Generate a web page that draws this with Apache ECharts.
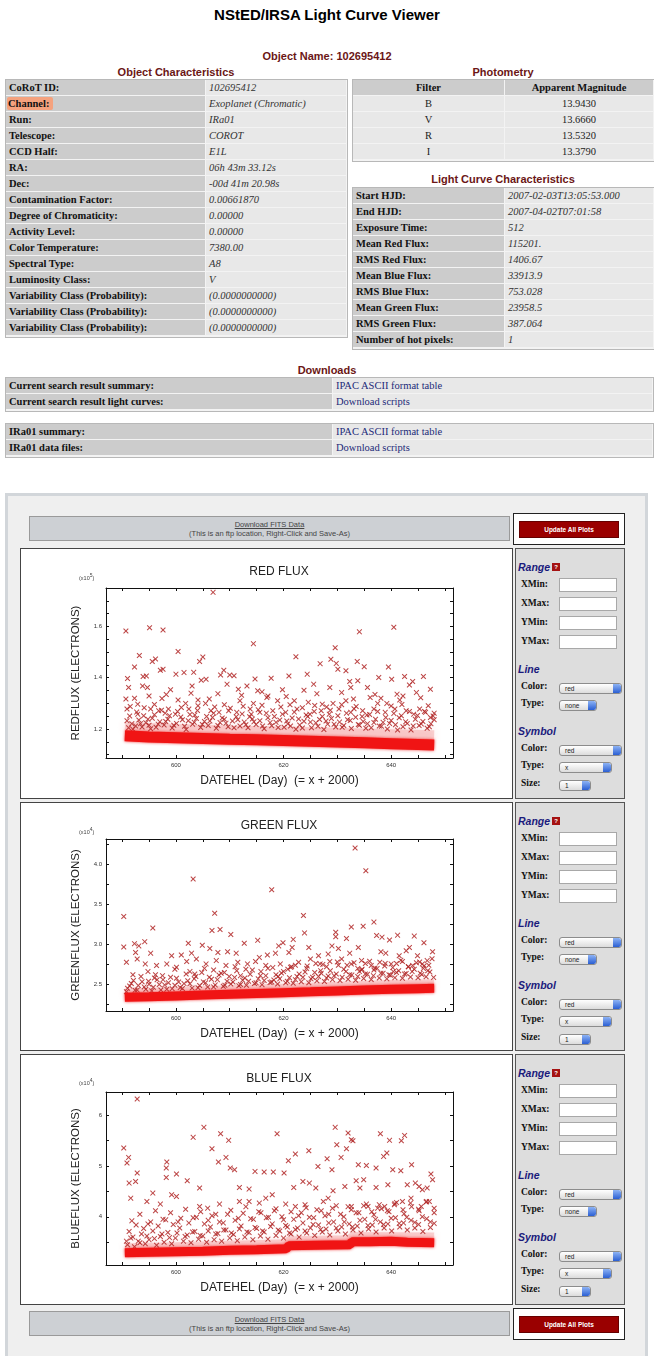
<!DOCTYPE html>
<html><head><meta charset="utf-8">
<script src="https://cdn.jsdelivr.net/npm/echarts@6/dist/echarts.min.js"></script>
<style>
body{margin:0;width:654px;height:1356px;position:relative;overflow:hidden;background:#fff;font-family:"Liberation Serif","Times New Roman",serif;}
.a{position:absolute;box-sizing:border-box;}
.ttl{position:absolute;left:0;width:654px;text-align:center;font:bold 15px "Liberation Sans",Arial,sans-serif;color:#000;}
.hd{position:absolute;text-align:center;font:bold 11px "Liberation Sans",Arial,sans-serif;color:#6b1616;white-space:nowrap;}
.c{position:absolute;box-sizing:border-box;height:15px;line-height:15px;font-size:10.5px;white-space:nowrap;overflow:hidden;padding-left:3px;}
.lab{background:#cccccc;font-weight:bold;color:#111;}
.val{background:#e8e8e8;font-style:italic;color:#333;}
.hdr{background:#cccccc;font-weight:bold;text-align:center;padding:0;color:#111;}
.pv{background:#e8e8e8;text-align:center;padding:0;color:#222;}
.lnk{background:#e8e8e8;color:#1c2a78;}
.pl{font:bold 9.5px "Liberation Serif",serif;color:#111;position:absolute;}
.ph{font:bold italic 10.5px "Liberation Sans",Arial,sans-serif;color:#1a1a7c;position:absolute;}
.inp{position:absolute;background:#fff;border:1px solid #a8a8a8;height:14px;box-sizing:border-box;}
.sel{position:absolute;box-sizing:border-box;height:11px;border:1px solid #8c8c8c;border-radius:3px;background:linear-gradient(#ffffff,#dcdcdc);font:6.5px "Liberation Sans",Arial,sans-serif;line-height:9px;padding-left:5px;color:#222;overflow:hidden;}
.arr{position:absolute;right:0;top:0;width:8px;height:9px;border-radius:0 2px 2px 0;background:linear-gradient(#8db3f5,#2b5fd3);}
.fits{position:absolute;box-sizing:border-box;background:#cdd0d4;border:1px solid #9a9a9a;text-align:center;font:7.5px "Liberation Sans",Arial,sans-serif;color:#444;line-height:9px;padding-top:3px;}
.upd{position:absolute;box-sizing:border-box;background:#fff;border:1px solid #222;}
.btn{position:absolute;box-sizing:border-box;background:#9a0000;border:1px solid #600;color:#fff;font:bold 6.5px "Liberation Sans",Arial,sans-serif;text-align:center;line-height:15px;}
.pbox{position:absolute;box-sizing:border-box;background:#fff;border:1px solid #444;}
.side{position:absolute;box-sizing:border-box;background:#dddddd;border:1px solid #555;}
</style></head>
<body>
<div id="page"></div>
<div id="chart" style="position:absolute;left:0;top:0;width:654px;height:1356px;z-index:5;pointer-events:none;"></div>
<script>
// ---------- page text ----------
const objLabels = ["CoRoT ID:","Channel:","Run:","Telescope:","CCD Half:","RA:","Dec:","Contamination Factor:","Degree of Chromaticity:","Activity Level:","Color Temperature:","Spectral Type:","Luminosity Class:","Variability Class (Probability):","Variability Class (Probability):","Variability Class (Probability):"];
const objValues = ["102695412","Exoplanet (Chromatic)","IRa01","COROT","E1L","06h 43m 33.12s","-00d 41m 20.98s","0.00661870","0.00000","0.00000","7380.00","A8","V","(0.0000000000)","(0.0000000000)","(0.0000000000)"];
const photFilters = ["B","V","R","I"];
const photMags = ["13.9430","13.6660","13.5320","13.3790"];
const lcLabels = ["Start HJD:","End HJD:","Exposure Time:","Mean Red Flux:","RMS Red Flux:","Mean Blue Flux:","RMS Blue Flux:","Mean Green Flux:","RMS Green Flux:","Number of hot pixels:"];
const lcValues = ["2007-02-03T13:05:53.000","2007-04-02T07:01:58","512","115201.","1406.67","33913.9","753.028","23958.5","387.064","1"];
const dl1Labels = ["Current search result summary:","Current search result light curves:"];
const dl2Labels = ["IRa01 summary:","IRa01 data files:"];
const dlValues = ["IPAC ASCII format table","Download scripts"];

// ---------- chart data ----------
const xTicks = [590,595,600,605,610,615,620,625,630,635,640,645,650];
const xLabels = [600,620,640];
const redTicks = [1.1,1.15,1.2,1.25,1.3,1.35,1.4,1.45,1.5,1.55,1.6,1.65,1.7,1.75];
const redLabels = [1.2,1.4,1.6];
const greenTicks = [2.25,2.5,2.75,3.0,3.25,3.5,3.75,4.0,4.25];
const greenLabels = [2.5,3.0,3.5,4.0];
const blueTicks = [3.5,4,4.5,5,5.5,6];
const blueLabels = [4,5,6];

// dense baseline of each light curve (day, flux)
const redBand = [[590.5,1.174],[595,1.169],[600,1.166],[605,1.163],[610,1.160],[615,1.158],[620,1.155],[625,1.152],[630,1.149],[635,1.146],[640,1.143],[645,1.140],[648,1.138]];
const greenBand = [[590.5,2.340],[595,2.348],[600,2.358],[605,2.368],[610,2.378],[615,2.388],[620,2.398],[625,2.408],[630,2.420],[635,2.430],[640,2.440],[645,2.448],[648,2.452]];
const blueBand = [[590.5,3.29],[595,3.30],[600,3.31],[605,3.32],[610,3.34],[615,3.35],[620.5,3.37],[621,3.43],[626,3.44],[632.4,3.45],[632.7,3.51],[636,3.51],[640,3.52],[643,3.50],[648,3.49]];
// crowded zone just above each baseline (day, flux)
const redCrowd = [[590.5,1.207],[600,1.200],[610,1.194],[620,1.190],[630,1.185],[640,1.180],[648,1.176]];
const greenCrowd = [[590.5,2.400],[600,2.420],[610,2.440],[620,2.462],[630,2.485],[640,2.505],[648,2.515]];
const blueCrowd = [[590.5,3.40],[600,3.42],[610,3.45],[620.5,3.48],[621,3.54],[632.4,3.56],[632.7,3.62],[648,3.61]];

// scattered points above the baseline (day, flux)
const redPoints = [
[590.7,1.582],[595.1,1.595],[597.6,1.586],[606.9,1.733],[614.4,1.533],[634.1,1.579],[640.5,1.597],[600.4,1.502],[593.2,1.487],[605.0,1.481],
[622.3,1.482],[629.6,1.517],[628.8,1.472],[626.8,1.455],[595.6,1.463],[596.2,1.473],[604.4,1.463],[633.7,1.463],[635.0,1.443],[629.8,1.456],
[630.1,1.433],[631.6,1.427],[639.5,1.442],[592.3,1.442],[597.1,1.429],[597.6,1.433],[608.9,1.429],[600.0,1.414],[601.5,1.420],[603.3,1.421],
[608.3,1.411],[610.0,1.411],[610.8,1.408],[614.7,1.395],[617.7,1.398],[621.0,1.407],[624.4,1.414],[637.7,1.401],[640.1,1.394],[642.5,1.405],
[646.0,1.405],[591.0,1.397],[593.9,1.405],[594.5,1.407],[604.7,1.390],[605.6,1.394],[633.8,1.388],[632.3,1.385],[644.0,1.385],[643.4,1.372],
[647.3,1.355],[591.2,1.362],[593.8,1.368],[594.7,1.362],[599.0,1.353],[603.0,1.368],[609.5,1.375],[611.6,1.355],[613.2,1.368],[615.2,1.349],
[619.8,1.353],[623.8,1.351],[625.6,1.375],[628.6,1.362],[632.5,1.362],[635.6,1.362],[641.1,1.336],[642.2,1.329],[644.7,1.342],[590.7,1.317],
[592.3,1.320],[592.9,1.297],[595.0,1.329],[597.4,1.319],[600.4,1.313],[601.8,1.300],[604.1,1.313],[606.2,1.317],[611.9,1.310],[614.4,1.300],
[616.9,1.323],[617.1,1.329],[618.9,1.310],[622.0,1.310],[624.6,1.304],[627.2,1.297],[629.2,1.300],[631.6,1.310],[633.0,1.317],[636.1,1.323],
[638.1,1.320],[639.2,1.300],[641.6,1.313],[646.9,1.291],[590.9,1.278],[592.9,1.258],[595.3,1.278],[596.8,1.271],[598.6,1.278],[599.9,1.258],
[602.4,1.278],[604.1,1.291],[606.5,1.271],[608.0,1.265],[609.8,1.271],[611.3,1.265],[613.8,1.278],[615.6,1.265],[618.0,1.271],[620.4,1.265],
[622.5,1.278],[624.9,1.258],[627.0,1.271],[628.5,1.258],[630.3,1.278],[632.5,1.265],[634.7,1.271],[636.8,1.278],[638.9,1.265],[640.7,1.278],
[642.8,1.271],[645.3,1.278],[647.3,1.245],[591.5,1.288],[594.0,1.252],[596.0,1.296],[598.0,1.262],[601.0,1.284],[603.5,1.255],[605.5,1.300],
[607.2,1.286],[609.0,1.295],[612.5,1.289],[614.0,1.258],[616.0,1.293],[619.5,1.286],[621.2,1.295],[623.5,1.283],[625.8,1.292],[628.0,1.286],
[630.8,1.295],[633.5,1.288],[635.5,1.255],[637.5,1.300],[640.0,1.290],[642.0,1.296],[644.2,1.258],[646.2,1.268],[648.0,1.262],[602.8,1.340],
[607.8,1.338],[612.2,1.332],[620.5,1.327],[626.2,1.338],[630.8,1.342],[637.0,1.335],[645.5,1.322],[598.2,1.335],[616.0,1.345],
[591.2,1.205],[591.8,1.221],[592.5,1.212],[593.1,1.235],[593.7,1.208],[594.4,1.224],[595.0,1.215],[595.6,1.242],[596.3,1.207],[597.0,1.228],
[597.8,1.216],[598.5,1.238],[599.3,1.204],[600.1,1.222],[600.9,1.247],[601.6,1.211],[602.3,1.232],[603.1,1.219],[603.8,1.241],[604.6,1.206],
[605.3,1.229],[606.0,1.214],[606.8,1.245],[607.5,1.203],[608.2,1.225],[609.0,1.238],[609.7,1.209],[610.5,1.231],[611.2,1.248],[611.9,1.212],
[612.7,1.227],[613.4,1.205],[614.2,1.239],[614.9,1.218],[615.6,1.232],[616.4,1.201],[617.1,1.244],[617.8,1.213],[618.6,1.226],[619.3,1.235],
[620.1,1.207],[620.8,1.220],[621.6,1.243],[622.3,1.199],[623.0,1.216],[623.8,1.230],[624.5,1.249],[625.2,1.205],[626.0,1.224],[626.7,1.237],
[627.5,1.198],[628.2,1.219],[628.9,1.241],[629.7,1.208],[630.4,1.227],[631.2,1.214],[631.9,1.236],[632.6,1.202],[633.4,1.246],[634.1,1.215],
[634.8,1.229],[635.6,1.221],[636.3,1.205],[637.1,1.238],[637.8,1.212],[638.5,1.226],[639.3,1.200],[640.0,1.233],[640.8,1.217],[641.5,1.244],
[642.2,1.209],[643.0,1.222],[643.7,1.196],[644.5,1.238],[645.2,1.214],[645.9,1.229],[646.7,1.203],[647.4,1.221],[648.0,1.236],
[590.9,1.232],[591.4,1.251],[592.0,1.199],[592.7,1.266],[593.4,1.221],[594.1,1.283],[594.8,1.238],[595.3,1.201],[596.0,1.256],[596.7,1.219],
[597.3,1.273],[598.1,1.229],[598.8,1.252],[599.6,1.215],[600.3,1.268],[601.2,1.236],[601.9,1.198],[602.6,1.257],[603.4,1.226],[604.0,1.272],
[604.9,1.218],[605.7,1.249],[606.3,1.231],[607.0,1.262],[607.8,1.214],[608.6,1.243],[609.3,1.223],[610.1,1.281],[610.8,1.205],[611.5,1.236],
[612.3,1.259],[613.0,1.217],[613.7,1.248],[614.5,1.228],[615.3,1.275],[616.1,1.212],[616.8,1.262],[617.5,1.225],[618.3,1.249],[619.0,1.206],
[619.8,1.258],[620.6,1.231],[621.3,1.212],[622.0,1.266],[622.8,1.239],[623.5,1.204],[624.2,1.255],[625.0,1.227],[625.7,1.268],[626.4,1.211],
[627.2,1.249],[627.9,1.231],[628.7,1.273],[629.4,1.219],[630.1,1.252],[630.9,1.207],[631.7,1.262],[632.4,1.233],[633.1,1.279],[633.9,1.218],
[634.6,1.249],[635.3,1.203],[636.0,1.257],[636.8,1.225],[637.5,1.268],[638.2,1.211],[639.0,1.245],[639.7,1.222],[640.5,1.261],[641.2,1.196],
[641.9,1.252],[642.7,1.228],[643.4,1.268],[644.1,1.212],[644.9,1.253],[645.6,1.220],[646.4,1.265],[647.1,1.209],[647.8,1.251]
];
const greenPoints = [
[633.3,4.199],[635.3,3.915],[603.2,3.813],[617.8,3.679],[607.2,3.386],[623.7,3.358],[590.3,3.346],[636.8,3.276],[595.7,3.203],[632.6,3.215],
[634.8,3.224],[606.7,3.171],[608.2,3.183],[610.2,3.122],[623.9,3.142],[629.7,3.150],[631.7,3.073],[637.3,3.110],[638.3,3.089],[641.2,3.114],
[644.3,3.102],[615.2,3.049],[621.8,3.061],[639.7,3.053],[646.1,3.020],[602.3,3.012],[592.3,3.008],[594.2,3.033],[593.1,2.980],[612.7,3.012],
[619.1,2.980],[619.9,3.020],[629.7,3.093],[629.0,2.980],[590.3,2.967],[604.9,2.988],[606.3,2.947],[621.6,2.959],[624.7,2.959],[630.2,2.947],
[633.9,2.959],[643.4,2.959],[647.7,2.907],[592.5,2.898],[595.3,2.890],[599.2,2.858],[601.0,2.866],[602.9,2.890],[607.8,2.898],[609.6,2.907],
[611.2,2.890],[615.5,2.837],[617.0,2.866],[618.5,2.890],[621.0,2.898],[626.5,2.858],[628.3,2.878],[632.3,2.890],[638.1,2.907],[639.0,2.890],
[641.5,2.858],[642.8,2.919],[644.9,2.858],[646.7,2.797],[590.8,2.776],[592.8,2.817],[594.3,2.756],[596.4,2.736],[598.3,2.756],[600.1,2.715],
[602.0,2.785],[603.8,2.817],[605.6,2.756],[607.5,2.797],[609.3,2.736],[611.5,2.776],[613.3,2.756],[614.8,2.785],[616.7,2.736],[619.4,2.756],
[621.3,2.715],[622.8,2.776],[625.0,2.817],[626.8,2.756],[628.6,2.785],[630.8,2.817],[632.6,2.756],[634.5,2.797],[636.3,2.736],[637.9,2.776],
[640.0,2.756],[642.1,2.785],[644.0,2.736],[645.8,2.756],
[592.0,2.620],[594.8,2.660],[597.5,2.610],[599.8,2.690],[602.6,2.660],[605.3,2.700],[607.0,2.680],[609.0,2.650],[611.0,2.720],[613.0,2.690],
[615.8,2.660],[618.0,2.710],[620.8,2.690],[622.2,2.740],[624.3,2.700],[626.0,2.760],[628.0,2.720],[630.0,2.780],[631.8,2.740],[633.8,2.700],
[635.2,2.760],[636.8,2.680],[638.8,2.730],[641.0,2.760],[643.2,2.720],[645.3,2.780],[647.0,2.740],[596.0,2.580],[603.5,2.630],[612.0,2.610],
[619.0,2.600],[627.0,2.640],[634.6,2.690],[640.4,2.660],[646.0,2.700],
[591.0,2.452],[591.7,2.512],[592.4,2.428],[593.0,2.487],[593.7,2.535],[594.4,2.441],[595.0,2.503],[595.8,2.466],[596.5,2.558],[597.2,2.432],
[597.9,2.495],[598.6,2.521],[599.3,2.448],[600.1,2.578],[600.8,2.462],[601.5,2.511],[602.2,2.546],[603.0,2.455],[603.7,2.600],[604.4,2.487],
[605.1,2.532],[605.9,2.468],[606.6,2.565],[607.3,2.495],[608.0,2.619],[608.8,2.478],[609.5,2.541],[610.2,2.507],[610.9,2.588],[611.7,2.485],
[612.4,2.552],[613.1,2.490],[613.8,2.628],[614.6,2.512],[615.3,2.570],[616.0,2.498],[616.7,2.610],[617.5,2.525],[618.2,2.556],[618.9,2.505],
[619.6,2.642],[620.4,2.520],[621.1,2.584],[621.8,2.515],[622.5,2.600],[623.3,2.535],[624.0,2.655],[624.7,2.522],[625.4,2.590],[626.2,2.545],
[626.9,2.672],[627.6,2.538],[628.3,2.605],[629.1,2.560],[629.8,2.630],[630.5,2.548],[631.2,2.690],[632.0,2.565],[632.7,2.618],[633.4,2.552],
[634.1,2.660],[634.9,2.575],[635.6,2.628],[636.3,2.562],[637.0,2.705],[637.8,2.580],[638.5,2.640],[639.2,2.570],[639.9,2.615],[640.7,2.585],
[641.4,2.670],[642.1,2.578],[642.8,2.638],[643.6,2.592],[644.3,2.690],[645.0,2.583],[645.7,2.625],[646.5,2.596],[647.2,2.655],[647.9,2.588],
[590.8,2.41],[591.4,2.48],[592.1,2.55],[592.8,2.43],[593.5,2.60],[594.1,2.47],[594.9,2.54],[595.5,2.42],[596.2,2.62],[596.9,2.50],
[597.6,2.56],[598.3,2.44],[599.0,2.59],[599.8,2.49],[600.5,2.53],[601.2,2.45],[601.9,2.63],[602.6,2.51],[603.4,2.57],[604.1,2.46],
[604.8,2.65],[605.5,2.52],[606.2,2.59],[607.0,2.47],[607.7,2.56],[608.4,2.64],[609.1,2.49],[609.9,2.60],[610.6,2.53],[611.3,2.67],
[612.0,2.50],[612.8,2.58],[613.5,2.54],[614.2,2.68],[614.9,2.52],[615.7,2.61],[616.4,2.55],[617.1,2.70],[617.8,2.53],[618.6,2.62],
[619.3,2.57],[620.0,2.66],[620.7,2.54],[621.5,2.72],[622.2,2.56],[622.9,2.63],[623.6,2.59],[624.4,2.73],[625.1,2.57],[625.8,2.65],
[626.5,2.60],[627.3,2.75],[628.0,2.58],[628.7,2.67],[629.4,2.61],[630.2,2.74],[630.9,2.59],[631.6,2.66],[632.3,2.62],[633.1,2.77],
[633.8,2.60],[634.5,2.68],[635.2,2.63],[636.0,2.79],[636.7,2.61],[637.4,2.70],[638.1,2.64],[638.9,2.76],[639.6,2.62],[640.3,2.71],
[641.0,2.65],[641.8,2.80],[642.5,2.63],[643.2,2.72],[643.9,2.66],[644.7,2.77],[645.4,2.64],[646.1,2.73],[646.8,2.67],[647.6,2.82]
];
const bluePoints = [
[592.8,6.322],[605.2,5.763],[629.6,5.763],[632.0,5.651],[632.6,5.520],[632.9,5.500],[638.0,5.638],[642.5,5.605],[618.8,5.638],[608.3,5.638],
[603.2,5.566],[609.8,5.507],[629.9,5.421],[639.7,5.507],[590.3,5.355],[606.7,5.342],[641.9,5.500],[631.7,5.342],[624.7,5.303],[628.1,5.145],
[622.2,5.237],[639.2,5.257],[591.2,5.171],[590.9,5.059],[598.3,5.079],[609.3,5.171],[607.9,5.079],[620.9,5.105],[630.7,5.171],[638.6,5.191],
[643.8,5.026],[633.9,5.026],[635.4,5.013],[637.2,4.961],[626.4,4.993],[629.0,4.928],[592.8,4.862],[591.3,4.664],[592.5,4.697],[598.2,4.961],
[610.1,4.961],[610.9,4.928],[614.7,4.895],[616.4,4.882],[618.1,4.882],[620.1,4.862],[640.3,4.928],[641.8,4.908],[600.1,4.842],[602.1,4.711],
[647.4,4.842],[647.7,4.730],[634.9,4.730],[633.5,4.711],[623.6,4.697],[624.8,4.664],[639.4,4.632],[643.0,4.632],[644.5,4.664],[645.2,4.599],
[598.2,4.776],[604.4,4.566],[611.8,4.579],[613.6,4.546],[617.9,4.434],[621.9,4.579],[626.0,4.566],[629.2,4.513],[631.4,4.599],[634.2,4.566],
[637.2,4.579],[645.8,4.533],[646.7,4.566],[647.1,4.303],[645.6,4.204],[591.6,4.368],[595.7,4.467],[594.6,4.303],[599.2,4.434],[600.1,4.401],
[597.1,4.250],[604.4,4.204],[605.9,4.171],[608.1,4.250],[611.8,4.303],[613.6,4.303],[615.5,4.270],[616.7,4.368],[620.4,4.250],[622.2,4.204],
[624.0,4.237],[627.4,4.303],[628.3,4.368],[632.6,4.204],[635.7,4.204],[637.5,4.171],[638.8,4.204],[640.6,4.237],[642.1,4.303],[643.7,4.368],
[591.8,3.92],[593.3,4.05],[594.8,3.86],[596.2,4.12],[597.6,3.95],[599.0,4.08],[600.4,3.90],[601.8,4.15],[603.2,3.98],[604.6,4.10],
[606.0,3.93],[607.4,4.05],[608.8,3.88],[610.2,4.13],[611.6,3.97],[613.0,4.20],[614.4,3.95],[615.8,4.08],[617.2,3.99],[618.6,4.16],
[620.0,3.94],[621.4,4.10],[622.8,4.02],[624.2,4.18],[625.6,3.98],[627.0,4.12],[628.4,4.05],[629.8,4.22],[631.2,4.00],[632.6,4.14],
[634.0,4.08],[635.4,4.25],[636.8,4.04],[638.2,4.16],[639.6,4.10],[641.0,4.28],[642.4,4.06],[643.8,4.20],[645.2,4.12],[646.6,4.30],[648.0,4.08],
[591.0,3.45],[591.6,3.58],[592.3,3.41],[593.0,3.52],[593.6,3.66],[594.3,3.47],[595.0,3.55],[595.7,3.72],[596.4,3.44],[597.1,3.61],
[597.8,3.50],[598.5,3.69],[599.2,3.47],[599.9,3.58],[600.7,3.78],[601.4,3.52],[602.1,3.64],[602.8,3.49],[603.5,3.71],[604.2,3.56],
[605.0,3.62],[605.7,3.50],[606.4,3.80],[607.1,3.55],[607.8,3.67],[608.5,3.52],[609.3,3.74],[610.0,3.58],[610.7,3.65],[611.4,3.53],
[612.1,3.82],[612.8,3.60],[613.6,3.69],[614.3,3.55],[615.0,3.77],[615.7,3.62],[616.4,3.70],[617.1,3.56],[617.9,3.86],[618.6,3.63],
[619.3,3.72],[620.0,3.58],[620.7,3.80],[621.4,3.66],[622.2,3.75],[622.9,3.60],[623.6,3.88],[624.3,3.68],[625.0,3.78],[625.8,3.63],
[626.5,3.84],[627.2,3.70],[627.9,3.76],[628.6,3.64],[629.3,3.90],[630.1,3.72],[630.8,3.80],[631.5,3.66],[632.2,3.86],[632.9,3.74],
[633.7,3.82],[634.4,3.68],[635.1,3.95],[635.8,3.76],[636.5,3.84],[637.2,3.70],[638.0,3.90],[638.7,3.78],[639.4,3.86],[640.1,3.72],
[640.8,3.98],[641.6,3.80],[642.3,3.88],[643.0,3.74],[643.7,3.93],[644.4,3.78],[645.1,3.85],[645.9,3.71],[646.6,3.96],[647.3,3.79],[648.0,3.87],
[590.8,3.52],[591.3,3.71],[592.0,3.60],[592.6,3.84],[593.3,3.49],[594.0,3.77],[594.6,3.62],[595.3,3.90],[596.0,3.57],[596.7,3.82],
[597.4,3.66],[598.1,3.94],[598.8,3.59],[599.5,3.85],[600.2,3.68],[600.9,3.97],[601.7,3.61],[602.4,3.88],[603.1,3.70],[603.8,3.99],
[604.5,3.63],[605.3,3.86],[606.0,3.72],[606.7,4.02],[607.4,3.66],[608.1,3.90],[608.9,3.74],[609.6,4.05],[610.3,3.68],[611.0,3.93],
[611.8,3.76],[612.5,4.07],[613.2,3.70],[613.9,3.96],[614.7,3.79],[615.4,4.10],[616.1,3.72],[616.8,3.98],[617.6,3.81],[618.3,4.12],
[619.0,3.74],[619.7,4.00],[620.4,3.83],[621.1,3.68],[621.9,3.95],[622.6,3.78],[623.3,4.08],[624.0,3.72],[624.8,3.99],[625.5,3.85],
[626.2,4.14],[626.9,3.75],[627.7,4.02],[628.4,3.88],[629.1,4.17],[629.8,3.78],[630.6,4.05],[631.3,3.90],[632.0,4.20],[632.8,3.80],
[633.5,4.08],[634.2,3.93],[634.9,4.22],[635.7,3.83],[636.4,4.10],[637.1,3.95],[637.8,4.24],[638.6,3.85],[639.3,4.12],[640.0,3.97],
[640.7,4.26],[641.5,3.87],[642.2,4.14],[642.9,3.99],[643.6,4.27],[644.4,3.89],[645.1,4.15],[645.8,4.00],[646.5,4.29],[647.3,3.90],[648.0,4.17]
];

// ---------- build page ----------
const page = document.getElementById('page');
function el(cls, x, y, w, h, html, style){
  const d = document.createElement('div');
  d.className = cls;
  d.style.left = x+'px'; d.style.top = y+'px';
  if (w!=null) d.style.width = w+'px';
  if (h!=null) d.style.height = h+'px';
  if (html!=null) d.innerHTML = html;
  if (style) Object.assign(d.style, style);
  page.appendChild(d);
  return d;
}
function txt(cls, x, y, w, text){ const d = el(cls, x, y, w, null, null); d.textContent = text; return d; }

txt('ttl', 0, 6, 654, 'NStED/IRSA Light Curve Viewer');
txt('hd', 0, 50, 654, 'Object Name: 102695412');
txt('hd', 5, 66, 342, 'Object Characteristics');
txt('hd', 352, 66, 302, 'Photometry');
txt('hd', 352, 173, 302, 'Light Curve Characteristics');
txt('hd', 0, 364, 654, 'Downloads');

function table(x, y, widths, rows, classes){
  const total = widths.reduce((a,b)=>a+b,0);
  el('a', x, y, total+2, rows.length*16+3, null, {background:'#f3f3f3', border:'1px solid #b8b8b8'});
  rows.forEach((r,i)=>{
    let cx = x+1;
    r.forEach((t,j)=>{
      const cls = typeof classes[i] === 'string' ? classes[i] : classes[i][j];
      const d = el('c '+cls, cx, y+1+i*16, widths[j]-1, 15, null);
      d.textContent = t;
      cx += widths[j];
    });
  });
}
table(5, 79, [200,141], objLabels.map((l,i)=>[l,objValues[i]]), objLabels.map(()=>['lab','val']));
// highlight on "Channel:"
el('a', 7, 97, 46, 13, null, {background:'#f5a27e', borderRadius:'2px', zIndex:1});
(function(){ const d = el('c lab', 8, 96, 50, 15, null, {background:'transparent', padding:'0', zIndex:2}); d.textContent='Channel:'; })();

table(352, 79, [152,149], [["Filter","Apparent Magnitude"]].concat(photFilters.map((f,i)=>[f,photMags[i]])), ['hdr','pv','pv','pv','pv']);
table(352, 187, [152,149], lcLabels.map((l,i)=>[l,lcValues[i]]), lcLabels.map(()=>['lab','val']));
table(5, 377, [327,320], dl1Labels.map((l,i)=>[l,dlValues[i]]), [['lab','lnk'],['lab','lnk']]);
table(5, 423, [327,320], dl2Labels.map((l,i)=>[l,dlValues[i]]), [['lab','lnk'],['lab','lnk']]);

// plotting panel
el('a', 5, 493, 643, 900, null, {background:'#efefef', border:'3px solid #d2d6da'});
function fitsBar(y){
  el('fits', 29, y, 481, 25, '<span style="text-decoration:underline">Download FITS Data</span><br>(This is an ftp location, Right-Click and Save-As)');
}
function updBox(y){
  el('upd', 513, y, 112, 32, null);
  el('btn', 519, y+8, 100, 17, 'Update All Plots');
}
fitsBar(516); updBox(513);
fitsBar(1311); updBox(1308);

const boxes = [[548,251],[802,249],[1054,251]];
function selectBox(x, y, w, label){
  const s = el('sel', x, y, w, 11, null);
  s.textContent = label;
  const ar = document.createElement('div'); ar.className='arr'; s.appendChild(ar);
}
boxes.forEach(([t,h])=>{
  el('pbox', 20, t, 493, h, null);
  el('side', 515, t, 110, h, null);
  txt('ph', 518, t+13, 60, 'Range');
  el('a', 552, t+15, 8, 8, '?', {background:'#a51212', color:'#fff', font:'bold 6px "Liberation Sans"', textAlign:'center', lineHeight:'8px'});
  [['XMin:',31],['XMax:',50],['YMin:',69],['YMax:',88]].forEach(([l,dy])=>{
    txt('pl', 521, t+dy, 40, l);
    el('inp', 559, t+dy-1, 58, 14, null);
  });
  txt('ph', 518, t+115, 60, 'Line');
  txt('pl', 521, t+133, 40, 'Color:'); selectBox(559, t+135, 63, 'red');
  txt('pl', 521, t+150, 40, 'Type:'); selectBox(559, t+152, 38, 'none');
  txt('ph', 518, t+177, 60, 'Symbol');
  txt('pl', 521, t+195, 40, 'Color:'); selectBox(559, t+197, 63, 'red');
  txt('pl', 521, t+212, 40, 'Type:'); selectBox(559, t+214, 53, 'x');
  txt('pl', 521, t+230, 40, 'Size:'); selectBox(559, t+232, 32, '1');
});

// ---------- charts ----------
const FONT = '"Liberation Sans", Arial, sans-serif';
const XSYM = 'path://M0,1.3L1.3,0L5,3.7L8.7,0L10,1.3L6.3,5L10,8.7L8.7,10L5,6.3L1.3,10L0,8.7L3.7,5Z';
const plots = [
  {title:'RED FLUX', yname:'REDFLUX (ELECTRONS)', exp:'5', top:588, height:170, ymin:1.087, ymax:1.75, yt:redTicks, yl:redLabels, dec:1, band:redBand, bw:11, crowd:redCrowd, cw:10, pts:redPoints, ty:572, ey:578},
  {title:'GREEN FLUX', yname:'GREENFLUX (ELECTRONS)', exp:'4', top:839, height:172, ymin:2.17, ymax:4.31, yt:greenTicks, yl:greenLabels, dec:1, band:greenBand, bw:9, crowd:greenCrowd, cw:8, pts:greenPoints, ty:826, ey:832},
  {title:'BLUE FLUX', yname:'BLUEFLUX (ELECTRONS)', exp:'4', top:1092, height:173, ymin:3.05, ymax:6.46, yt:blueTicks, yl:blueLabels, dec:0, band:blueBand, bw:9, crowd:blueCrowd, cw:8, pts:bluePoints, ty:1079, ey:1083}
];
const grid=[], xAxis=[], yAxis=[], series=[], graphic=[];
const line = {show:true, onZero:false, lineStyle:{color:'#111', width:1}};
plots.forEach((p,i)=>{
  grid.push({left:106, top:p.top, width:347, height:p.height, show:false});
  const tick = {show:true, inside:true, length:3, lineStyle:{color:'#111', width:1}};
  xAxis.push({type:'value', gridIndex:i, position:'bottom', min:587, max:651.5, axisLine:line,
    axisTick:Object.assign({customValues:xTicks}, tick),
    axisLabel:{customValues:xLabels, fontSize:6, color:'#333', margin:4, fontFamily:FONT},
    splitLine:{show:false},
    name:'DATEHEL (Day)  (= x + 2000)', nameLocation:'middle', nameGap:17,
    nameTextStyle:{fontSize:12, color:'#222', fontFamily:FONT}});
  xAxis.push({type:'value', gridIndex:i, position:'top', min:587, max:651.5, axisLine:line,
    axisTick:Object.assign({customValues:xTicks}, tick), axisLabel:{show:false}, splitLine:{show:false}});
  yAxis.push({type:'value', gridIndex:i, position:'left', min:p.ymin, max:p.ymax, axisLine:line,
    axisTick:Object.assign({customValues:p.yt}, tick),
    axisLabel:{customValues:p.yl, fontSize:6, color:'#333', margin:4, fontFamily:FONT, formatter:v=>Number(v).toFixed(p.dec)},
    splitLine:{show:false},
    name:p.yname, nameLocation:'middle', nameRotate:90, nameGap:24,
    nameTextStyle:{fontSize:11.5, color:'#222', fontFamily:FONT}});
  yAxis.push({type:'value', gridIndex:i, position:'right', min:p.ymin, max:p.ymax, axisLine:line,
    axisTick:Object.assign({customValues:p.yt}, tick), axisLabel:{show:false}, splitLine:{show:false}});
  series.push({type:'line', xAxisIndex:2*i, yAxisIndex:2*i, data:p.crowd, symbol:'none', showSymbol:false,
    lineStyle:{color:'rgba(230,60,60,0.22)', width:p.cw, cap:'butt', shadowBlur:8, shadowColor:'rgba(230,50,50,0.55)'}, silent:true, z:1});
  series.push({type:'scatter', xAxisIndex:2*i, yAxisIndex:2*i, data:p.pts, symbol:XSYM, symbolSize:5.5,
    itemStyle:{color:'#b02424', opacity:0.85}, silent:true, z:2});
  series.push({type:'line', xAxisIndex:2*i, yAxisIndex:2*i, data:p.band, symbol:'none', showSymbol:false,
    lineStyle:{color:'#f01414', width:p.bw, cap:'butt', shadowBlur:3, shadowColor:'rgba(240,20,20,0.9)'}, silent:true, z:3});
  graphic.push({type:'text', x:279, y:p.ty, style:{text:p.title, font:'12px '+FONT, fill:'#222', align:'center', verticalAlign:'middle'}});
  graphic.push({type:'text', x:79, y:p.ey, style:{text:'(x10{s|'+p.exp+'})', font:'5.5px '+FONT, fill:'#444', align:'left', verticalAlign:'middle',
    rich:{s:{fontSize:5, fill:'#444', padding:[0,0,5,0], fontFamily:FONT}}}});
});
const chart = echarts.init(document.getElementById('chart'), null, {renderer:'canvas'});
chart.setOption({animation:false, backgroundColor:'transparent', grid, xAxis, yAxis, series, graphic});
</script>
</body></html>
